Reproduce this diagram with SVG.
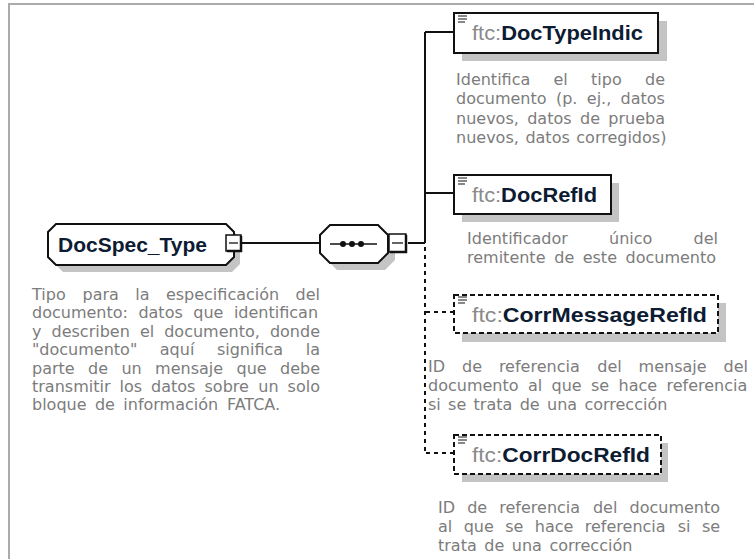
<svg xmlns="http://www.w3.org/2000/svg" width="754" height="559" viewBox="0 0 754 559">
<style>
.frame{stroke:#ababab;stroke-width:2;fill:none}
.shadow{fill:#c4c4c4;stroke:none}
.box{fill:#fff;stroke:#111;stroke-width:2}
.dbox{fill:#fff;stroke:#111;stroke-width:2;stroke-dasharray:5 3}
.con{stroke:#111;stroke-width:2;fill:none}
.dcon{stroke:#111;stroke-width:2;fill:none;stroke-dasharray:4 4}
.name{font-family:"Liberation Sans",Arial,sans-serif;font-size:21px}
.pre{fill:#8a8a8a;font-weight:normal}
.bold{fill:#0d1b33;font-weight:bold}
.desc{font-family:"DejaVu Sans","Noto Sans",sans-serif;font-size:16px;fill:#7c7c7c}
.icon{stroke:#555;stroke-width:1.4}
</style>
<defs>
<g id="ico">
<line class="icon" x1="0" y1="0" x2="9" y2="0"/>
<line class="icon" x1="0" y1="3" x2="9" y2="3"/>
<line class="icon" x1="0" y1="6" x2="7" y2="6"/>
</g>
</defs>
<g id="frame">
<line class="frame" x1="9" y1="4" x2="754" y2="4"/>
<line class="frame" x1="9" y1="3" x2="9" y2="559"/>
</g>
<g id="connectors">
<line class="con" x1="241" y1="243" x2="320" y2="243"/>
<line class="con" x1="408" y1="243" x2="425" y2="243"/>
<line class="con" x1="425" y1="32" x2="425" y2="243"/>
<line class="dcon" x1="425" y1="247" x2="425" y2="453"/>
<line class="con" x1="425" y1="32" x2="454" y2="32"/>
<line class="con" x1="425" y1="193" x2="454" y2="193"/>
<line class="dcon" x1="426" y1="312" x2="454" y2="312"/>
<line class="dcon" x1="426" y1="453" x2="454" y2="453"/>
</g>
<g id="DocSpec_Type">
<polygon class="shadow" points="63,230 232,230 240,238 240,264 232,272 63,272 55,264 55,238"/>
<polygon class="box" points="56,224 226,224 234,232 234,257 226,265 56,265 48,257 48,232"/>
<text class="name bold" x="58" y="252" textLength="149" lengthAdjust="spacingAndGlyphs">DocSpec_Type</text>
<rect x="226" y="235" width="15" height="16" fill="#fff" stroke="#111" stroke-width="1.5"/>
<polyline points="241,236 241,251 227,251" fill="none" stroke="#111" stroke-width="2.5"/>
<line x1="229" y1="243" x2="238" y2="243" stroke="#111" stroke-width="1.3"/>
</g>
<g id="sequence">
<polygon class="shadow" points="337,231 385,231 395,241 395,260 385,270 337,270 327,260 327,241"/>
<polygon class="box" points="330,225 378,225 388,235 388,253 378,263 330,263 320,253 320,235"/>
<line x1="330" y1="244" x2="377" y2="244" stroke="#111" stroke-width="1.5"/>
<circle cx="343" cy="244" r="3" fill="#111"/>
<circle cx="352" cy="244" r="3" fill="#111"/>
<circle cx="361" cy="244" r="3" fill="#111"/>
<rect x="389" y="234" width="17" height="18" fill="#fff" stroke="#111" stroke-width="1.5"/>
<polyline points="406,235 406,252 390,252" fill="none" stroke="#111" stroke-width="2.5"/>
<line x1="392" y1="243" x2="403" y2="243" stroke="#111" stroke-width="1.3"/>
</g>
<g id="DocTypeIndic">
<rect class="shadow" x="462" y="21" width="205" height="40"/>
<rect class="box" x="454" y="13" width="204" height="40"/>
<use href="#ico" x="458" y="16"/>
<text class="name" x="472" y="40" textLength="171" lengthAdjust="spacingAndGlyphs"><tspan class="pre">ftc:</tspan><tspan class="bold">DocTypeIndic</tspan></text>
<text class="desc" y="85"><tspan x="456">Identifica</tspan> <tspan x="553.5">el</tspan> <tspan x="591.1">tipo</tspan> <tspan x="645">de</tspan></text>
<text class="desc" y="104"><tspan x="456">documento</tspan> <tspan x="555.9">(p.</tspan> <tspan x="586.8">ej.,</tspan> <tspan x="620.6">datos</tspan></text>
<text class="desc" y="124"><tspan x="456">nuevos,</tspan> <tspan x="527.2">datos</tspan> <tspan x="580">de</tspan> <tspan x="608.3">prueba</tspan></text>
<text class="desc" y="143"><tspan x="456">nuevos,</tspan> <tspan x="525.4">datos</tspan> <tspan x="576.3">corregidos)</tspan></text>
</g>
<g id="DocRefId">
<rect class="shadow" x="462" y="183" width="157" height="39"/>
<rect class="box" x="454" y="175" width="157" height="39"/>
<use href="#ico" x="458" y="178"/>
<text class="name" x="472" y="202" textLength="125" lengthAdjust="spacingAndGlyphs"><tspan class="pre">ftc:</tspan><tspan class="bold">DocRefId</tspan></text>
<text class="desc" y="244"><tspan x="467">Identificador</tspan> <tspan x="609">único</tspan> <tspan x="693.5">del</tspan></text>
<text class="desc" y="263"><tspan x="467">remitente</tspan> <tspan x="554.3">de</tspan> <tspan x="582.7">este</tspan> <tspan x="625.5">documento</tspan></text>
</g>
<g id="CorrMessageRefId">
<rect class="shadow" x="462" y="303" width="264" height="39"/>
<rect class="dbox" x="454" y="295" width="264" height="38"/>
<use href="#ico" x="458" y="297"/>
<text class="name" x="472" y="322" textLength="235" lengthAdjust="spacingAndGlyphs"><tspan class="pre">ftc:</tspan><tspan class="bold">CorrMessageRefId</tspan></text>
<text class="desc" y="372"><tspan x="428">ID</tspan> <tspan x="462">de</tspan> <tspan x="498.9">referencia</tspan> <tspan x="597.3">del</tspan> <tspan x="638.6">mensaje</tspan> <tspan x="723.5">del</tspan></text>
<text class="desc" y="391"><tspan x="428">documento</tspan> <tspan x="527.9">al</tspan> <tspan x="551.5">que</tspan> <tspan x="591">se</tspan> <tspan x="618.5">hace</tspan> <tspan x="666.5">referencia</tspan></text>
<text class="desc" y="410"><tspan x="428">si</tspan> <tspan x="448.1">se</tspan> <tspan x="473.6">trata</tspan> <tspan x="519.7">de</tspan> <tspan x="547">una</tspan> <tspan x="584.4">corrección</tspan></text>
</g>
<g id="CorrDocRefId">
<rect class="shadow" x="462" y="443" width="206" height="39"/>
<rect class="dbox" x="454" y="435" width="207" height="39"/>
<use href="#ico" x="458" y="437"/>
<text class="name" x="472" y="462" textLength="178" lengthAdjust="spacingAndGlyphs"><tspan class="pre">ftc:</tspan><tspan class="bold">CorrDocRefId</tspan></text>
<text class="desc" y="513"><tspan x="438">ID</tspan> <tspan x="467.2">de</tspan> <tspan x="499.3">referencia</tspan> <tspan x="592.9">del</tspan> <tspan x="629.5">documento</tspan></text>
<text class="desc" y="532"><tspan x="438">al</tspan> <tspan x="463.7">que</tspan> <tspan x="505.2">se</tspan> <tspan x="534.8">hace</tspan> <tspan x="584.8">referencia</tspan> <tspan x="677.7">si</tspan> <tspan x="701.9">se</tspan></text>
<text class="desc" y="551"><tspan x="438">trata</tspan> <tspan x="484.3">de</tspan> <tspan x="511.8">una</tspan> <tspan x="549.4">corrección</tspan></text>
</g>
<g id="DocSpec_desc">
<text class="desc" y="300"><tspan x="32">Tipo</tspan> <tspan x="82.5">para</tspan> <tspan x="135.2">la</tspan> <tspan x="165.9">especificación</tspan> <tspan x="295.6">del</tspan></text>
<text class="desc" y="318"><tspan x="32">documento:</tspan> <tspan x="138.4">datos</tspan> <tspan x="193.3">que</tspan> <tspan x="233.9">identifican</tspan></text>
<text class="desc" y="337"><tspan x="32">y</tspan> <tspan x="51.5">describen</tspan> <tspan x="139.9">el</tspan> <tspan x="164.2">documento,</tspan> <tspan x="269.9">donde</tspan></text>
<text class="desc" y="355"><tspan x="32">"documento"</tspan> <tspan x="159.8">aquí</tspan> <tspan x="216.9">significa</tspan> <tspan x="305.7">la</tspan></text>
<text class="desc" y="374"><tspan x="32">parte</tspan> <tspan x="88">de</tspan> <tspan x="121.4">un</tspan> <tspan x="155.1">mensaje</tspan> <tspan x="236.5">que</tspan> <tspan x="280">debe</tspan></text>
<text class="desc" y="392"><tspan x="32">transmitir</tspan> <tspan x="119.5">los</tspan> <tspan x="151.1">datos</tspan> <tspan x="204.5">sobre</tspan> <tspan x="258.3">un</tspan> <tspan x="287.6">solo</tspan></text>
<text class="desc" y="410"><tspan x="32">bloque</tspan> <tspan x="94.9">de</tspan> <tspan x="123.3">información</tspan> <tspan x="226.9">FATCA.</tspan></text>
</g>
</svg>
